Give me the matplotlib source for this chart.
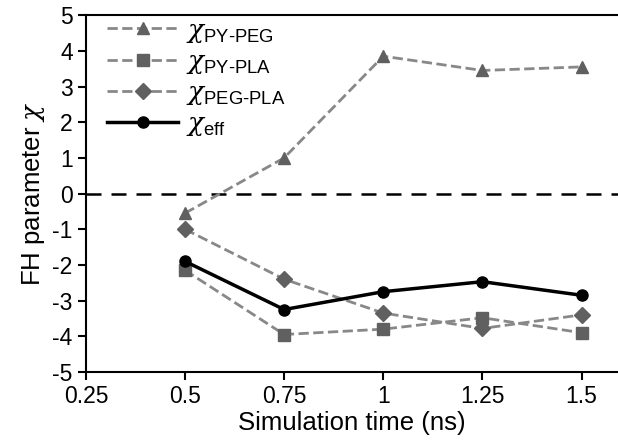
import numpy as np
import matplotlib.pyplot as plt

plt.rcParams['font.family'] = ['Liberation Sans', 'DejaVu Sans']
plt.rcParams['mathtext.fontset'] = 'custom'
plt.rcParams['mathtext.rm'] = 'Liberation Sans'
plt.rcParams['mathtext.it'] = 'DejaVu Serif:italic'
plt.rcParams['axes.unicode_minus'] = False

# data
time_ns = [0.5, 0.75, 1.0, 1.25, 1.5]
chi_py_peg = [-0.55, 1.0, 3.85, 3.45, 3.55]
chi_py_pla = [-2.15, -3.95, -3.8, -3.48, -3.9]
chi_peg_pla = [-1.0, -2.4, -3.35, -3.78, -3.4]
chi_eff = [-1.9, -3.25, -2.75, -2.47, -2.85]

xticks = [0.25, 0.5, 0.75, 1, 1.25, 1.5]
xtick_labels = ["0.25", "0.5", "0.75", "1", "1.25", "1.5"]
yticks = list(range(-5, 6))

fig = plt.figure(figsize=(6.18, 4.46), dpi=100)
ax = fig.add_axes([0.139, 0.166, 0.861, 0.8])

gray = '#888888'
mgray = '#606060'

ax.axhline(0, color='black', lw=1.8, dashes=(6, 4), zorder=1)

ax.plot(time_ns, chi_py_peg, color=gray, ls='--', lw=2, marker='^', ms=9,
        mfc=mgray, mec=mgray, label=r'$\chi_{\text{PY-PEG}}$')
ax.plot(time_ns, chi_py_pla, color=gray, ls='--', lw=2, marker='s', ms=8,
        mfc=mgray, mec=mgray, label=r'$\chi_{\text{PY-PLA}}$')
ax.plot(time_ns, chi_peg_pla, color=gray, ls='--', lw=2, marker='D', ms=8,
        mfc=mgray, mec=mgray, label=r'$\chi_{\text{PEG-PLA}}$')
ax.plot(time_ns, chi_eff, color='black', lw=2.5, marker='o', ms=8,
        mfc='black', mec='black', label=r'$\chi_{\text{eff}}$', zorder=5)

ax.set_xlim(0.25, 1.592)
ax.set_ylim(-5, 5)
ax.set_xticks(xticks)
ax.set_xticklabels(xtick_labels)
ax.set_yticks(yticks)
ax.tick_params(direction='out', length=6, width=1.5, labelsize=16.5)

for side in ['left', 'bottom', 'top']:
    ax.spines[side].set_linewidth(1.5)
ax.spines['right'].set_visible(False)

ax.set_xlabel('Simulation time (ns)', fontsize=18.5, labelpad=2)
ax.set_ylabel(r'FH parameter $\chi$', fontsize=18.5, labelpad=4)

ax.legend(loc='upper left', bbox_to_anchor=(0.01, 1.035), frameon=False,
          fontsize=19, handlelength=2.7, borderaxespad=0.2,
          labelspacing=0.2, handletextpad=0.3)

fig.savefig('out.png', dpi=100)
